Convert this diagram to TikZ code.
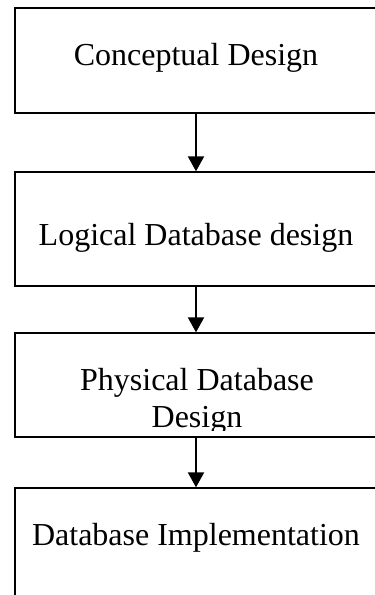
\documentclass[tikz,border=0pt]{standalone}
\usepackage{fontspec}
\setmainfont{Liberation Serif}
\usetikzlibrary{arrows.meta, positioning}

\begin{document}
\begin{tikzpicture}[x=1pt,y=-1pt,
	stepbox/.style={draw,line width=1.3pt,minimum width=362pt,inner sep=0pt,
		font=\fontsize{32}{37}\selectfont},
	steptext/.style={inner sep=0pt,align=center,
		font=\fontsize{32}{37}\selectfont},
	flow/.style={line width=2pt,-{Triangle[width=16pt,length=15pt]}}]
	\useasboundingbox (0,0) rectangle (375,595);
	% the four steps, one under the other
	\node[stepbox,minimum height=105pt,text height=9pt,text depth=0pt] (concept) at (196,60.5) {Conceptual Design};
	\node[stepbox,minimum height=114pt,text height=32pt,text depth=0pt] (logical) at (196,229) {Logical Database design};
	\node[stepbox,minimum height=104pt] (physical) at (196,385) {};
	\begin{scope}
		\clip (0,0) rectangle (375,430);
		\node[steptext,anchor=base] (physicaltext) at (197,427) {Physical Database\\Design};
	\end{scope}
	\node[stepbox,minimum height=130pt,text height=0pt,text depth=16pt] (implement) at (196,553) {Database Implementation};
	% arrows
	\draw[flow] (concept) -- (logical);
	\draw[flow] (logical) -- (physical);
	\draw[flow] (physical) -- (implement);
\end{tikzpicture}
\end{document}
